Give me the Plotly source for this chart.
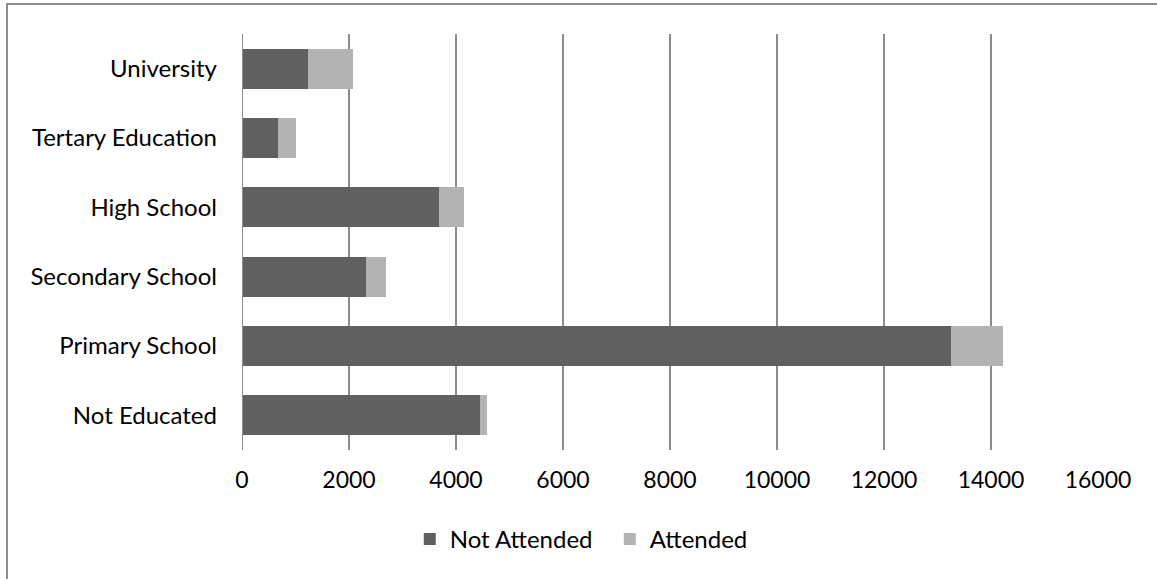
import plotly.graph_objects as go

# Education level (bottom to top on the category axis)
categories = ["Not Educated", "Primary School", "Secondary School",
              "High School", "Tertary Education", "University"]
not_attended = [4450, 13250, 2320, 3680, 675, 1240]
attended = [120, 980, 370, 470, 340, 840]
tick_vals = [0, 2000, 4000, 6000, 8000, 10000, 12000, 14000, 16000]
tick_text = ["0", "2000", "4000", "6000", "8000", "10000", "12000", "14000", "16000"]

FONT = "Lato"
SIZE = 24

fig = go.Figure()
fig.add_trace(go.Bar(y=categories, x=not_attended, orientation="h",
                     name="Not Attended", marker=dict(color="#606060", line=dict(width=0))))
fig.add_trace(go.Bar(y=categories, x=attended, orientation="h",
                     name="Attended", marker=dict(color="#b3b3b3", line=dict(width=0))))

fig.update_layout(
    barmode="stack",
    bargap=0.42,
    width=1157, height=579,
    margin=dict(l=242, r=59, t=34, b=129),
    paper_bgcolor="white", plot_bgcolor="white",
    font=dict(family=FONT, size=SIZE, color="#000000"),
    showlegend=True,
    legend=dict(orientation="h", x=0.196, xanchor="left", y=-0.215, yanchor="middle",
                font=dict(family=FONT, size=SIZE), traceorder="normal",
                itemwidth=30, entrywidthmode="pixels", entrywidth=155),
    xaxis=dict(range=[0, 16000], tickvals=tick_vals, ticktext=tick_text, showgrid=True,
               gridcolor="#8c8c8c", gridwidth=2, zeroline=False, showline=False,
               ticks="", ticklabelstandoff=14, tickfont=dict(size=23, family=FONT)),
    yaxis=dict(categoryorder="array", categoryarray=categories, showgrid=False,
               zeroline=False, showline=False, ticks="", ticklabelstandoff=24,
               tickfont=dict(size=SIZE, family=FONT)),
    shapes=[
        # vertical axis line at zero
        dict(type="line", xref="x", yref="paper", x0=0, x1=0, y0=0, y1=1,
             line=dict(color="#8c8c8c", width=2), layer="above"),
        # chart frame
        dict(type="rect", xref="paper", yref="paper", x0=-0.2745, x1=1.3,
             y0=-0.6, y1=1.0721, line=dict(color="#8c8c8c", width=2),
             fillcolor="rgba(0,0,0,0)", layer="below"),
    ],
)

fig.write_html("out.html")
